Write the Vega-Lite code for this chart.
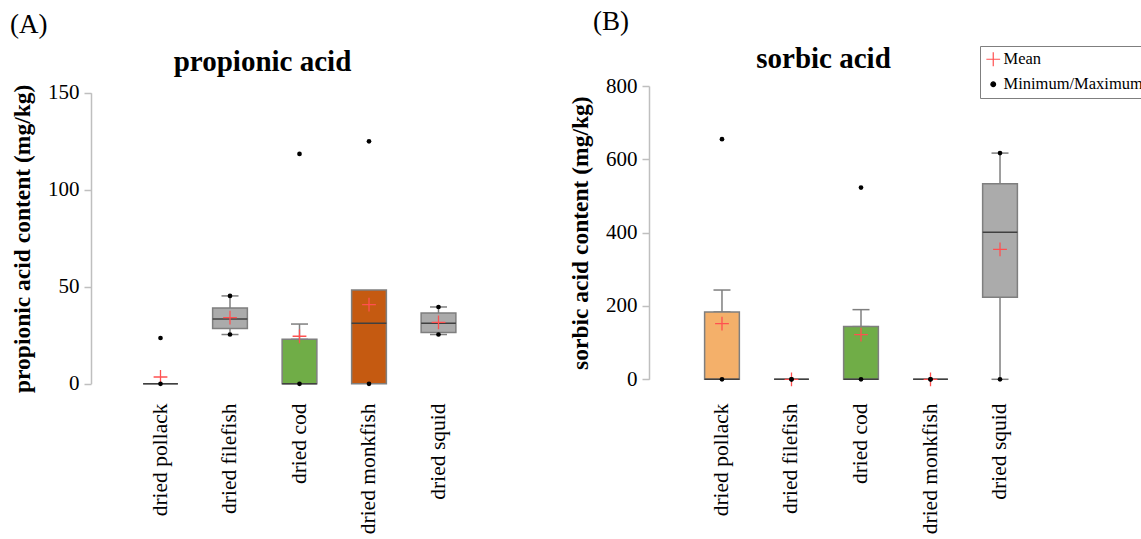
{
  "$schema": "https://vega.github.io/schema/vega-lite/v6.json",
  "padding": {"left": 10, "top": 8, "right": 0, "bottom": 0},
  "spacing": 60,
  "datasets": {
    "boxes": [
      {"panel": "A", "fish": "dried pollack", "q1": 0, "median": 0, "q3": 0, "wlo": null, "whi": null},
      {"panel": "A", "fish": "dried filefish", "q1": 28.5, "median": 33.4, "q3": 39.1, "wlo": 25.4, "whi": 45.3},
      {"panel": "A", "fish": "dried cod", "q1": 0, "median": 0, "q3": 22.9, "wlo": 22.9, "whi": 30.8},
      {"panel": "A", "fish": "dried monkfish", "q1": 0, "median": 31.2, "q3": 48.4, "wlo": null, "whi": null},
      {"panel": "A", "fish": "dried squid", "q1": 26.5, "median": 31.2, "q3": 36.5, "wlo": 25.4, "whi": 39.6},
      {"panel": "B", "fish": "dried pollack", "q1": 0, "median": 0, "q3": 183.5, "wlo": 183.5, "whi": 243.5},
      {"panel": "B", "fish": "dried filefish", "q1": 0, "median": 0, "q3": 0, "wlo": null, "whi": null},
      {"panel": "B", "fish": "dried cod", "q1": 0, "median": 0, "q3": 143.7, "wlo": 143.7, "whi": 190},
      {"panel": "B", "fish": "dried monkfish", "q1": 0, "median": 0, "q3": 0, "wlo": null, "whi": null},
      {"panel": "B", "fish": "dried squid", "q1": 223.6, "median": 401, "q3": 533.7, "wlo": 0, "whi": 617}
    ],
    "points": [
      {"panel": "A", "fish": "dried pollack", "stat": "Mean", "value": 3.5},
      {"panel": "A", "fish": "dried pollack", "stat": "Minimum/Maximum", "value": 0},
      {"panel": "A", "fish": "dried pollack", "stat": "Minimum/Maximum", "value": 23.6},
      {"panel": "A", "fish": "dried filefish", "stat": "Mean", "value": 34.1},
      {"panel": "A", "fish": "dried filefish", "stat": "Minimum/Maximum", "value": 25.4},
      {"panel": "A", "fish": "dried filefish", "stat": "Minimum/Maximum", "value": 45.3},
      {"panel": "A", "fish": "dried cod", "stat": "Mean", "value": 24.5},
      {"panel": "A", "fish": "dried cod", "stat": "Minimum/Maximum", "value": 0},
      {"panel": "A", "fish": "dried cod", "stat": "Minimum/Maximum", "value": 118.5},
      {"panel": "A", "fish": "dried monkfish", "stat": "Mean", "value": 40.8},
      {"panel": "A", "fish": "dried monkfish", "stat": "Minimum/Maximum", "value": 0},
      {"panel": "A", "fish": "dried monkfish", "stat": "Minimum/Maximum", "value": 125},
      {"panel": "A", "fish": "dried squid", "stat": "Mean", "value": 31.7},
      {"panel": "A", "fish": "dried squid", "stat": "Minimum/Maximum", "value": 25.4},
      {"panel": "A", "fish": "dried squid", "stat": "Minimum/Maximum", "value": 39.6},
      {"panel": "B", "fish": "dried pollack", "stat": "Mean", "value": 152},
      {"panel": "B", "fish": "dried pollack", "stat": "Minimum/Maximum", "value": 0},
      {"panel": "B", "fish": "dried pollack", "stat": "Minimum/Maximum", "value": 655},
      {"panel": "B", "fish": "dried filefish", "stat": "Mean", "value": 0},
      {"panel": "B", "fish": "dried filefish", "stat": "Minimum/Maximum", "value": 0},
      {"panel": "B", "fish": "dried filefish", "stat": "Minimum/Maximum", "value": 0},
      {"panel": "B", "fish": "dried cod", "stat": "Mean", "value": 122},
      {"panel": "B", "fish": "dried cod", "stat": "Minimum/Maximum", "value": 0},
      {"panel": "B", "fish": "dried cod", "stat": "Minimum/Maximum", "value": 523},
      {"panel": "B", "fish": "dried monkfish", "stat": "Mean", "value": 0},
      {"panel": "B", "fish": "dried monkfish", "stat": "Minimum/Maximum", "value": 0},
      {"panel": "B", "fish": "dried monkfish", "stat": "Minimum/Maximum", "value": 0},
      {"panel": "B", "fish": "dried squid", "stat": "Mean", "value": 354.5},
      {"panel": "B", "fish": "dried squid", "stat": "Minimum/Maximum", "value": 0},
      {"panel": "B", "fish": "dried squid", "stat": "Minimum/Maximum", "value": 617}
    ]
  },
  "hconcat": [
    {
      "width": 417,
      "height": 300,
      "title": {"text": "(A)", "anchor": "start", "frame": "group", "dx": -81, "offset": 8},
      "resolve": {"scale": {"x": "independent"}},
      "layer": [
        {
          "encoding": {
            "x": {"field": "fish", "type": "nominal", "sort": null, "scale": {"domain": ["dried pollack", "dried filefish", "dried cod", "dried monkfish", "dried squid"], "paddingInner": 0.5, "paddingOuter": 0.75}, "axis": {"title": null}}
          },
          "layer": [
            {
              "data": {"name": "boxes"},
              "transform": [{"filter": "datum.panel === 'A'"}],
              "mark": {"type": "rule", "color": "#7F7F7F", "strokeWidth": 1.5},
              "encoding": {
                "y": {"field": "wlo", "type": "quantitative", "title": "propionic acid content (mg/kg)", "scale": {"domain": [0, 150], "range": [297.8, 6.8], "nice": false}, "axis": {"values": [0, 50, 100, 150]}},
                "y2": {"field": "whi"}
              }
            },
            {
              "data": {"name": "boxes"},
              "transform": [{"filter": "datum.panel === 'A'"}],
              "mark": {"type": "tick", "color": "#7F7F7F", "thickness": 1.5, "size": 17, "opacity": 1},
              "encoding": {
                "y": {"field": "wlo", "type": "quantitative", "title": "propionic acid content (mg/kg)", "scale": {"domain": [0, 150], "range": [297.8, 6.8], "nice": false}, "axis": {"values": [0, 50, 100, 150]}}
              }
            },
            {
              "data": {"name": "boxes"},
              "transform": [{"filter": "datum.panel === 'A'"}],
              "mark": {"type": "tick", "color": "#7F7F7F", "thickness": 1.5, "size": 17, "opacity": 1},
              "encoding": {
                "y": {"field": "whi", "type": "quantitative", "title": "propionic acid content (mg/kg)", "scale": {"domain": [0, 150], "range": [297.8, 6.8], "nice": false}, "axis": {"values": [0, 50, 100, 150]}}
              }
            },
            {
              "data": {"name": "boxes"},
              "transform": [{"filter": "datum.panel === 'A'"}],
              "mark": {"type": "bar", "stroke": "#7F7F7F", "strokeWidth": 1.5},
              "encoding": {
                "y": {"field": "q1", "type": "quantitative", "title": "propionic acid content (mg/kg)", "scale": {"domain": [0, 150], "range": [297.8, 6.8], "nice": false}, "axis": {"values": [0, 50, 100, 150]}},
                "y2": {"field": "q3"},
                "fill": {"field": "fish", "type": "nominal", "scale": {"domain": ["dried pollack", "dried filefish", "dried cod", "dried monkfish", "dried squid"], "range": ["#F4B06A", "#ABABAB", "#70AD47", "#C55A11", "#ABABAB"]}, "legend": null}
              }
            },
            {
              "data": {"name": "boxes"},
              "transform": [{"filter": "datum.panel === 'A'"}],
              "mark": {"type": "tick", "color": "#404040", "thickness": 1.5, "size": 34.75, "opacity": 1},
              "encoding": {
                "y": {"field": "median", "type": "quantitative", "title": "propionic acid content (mg/kg)", "scale": {"domain": [0, 150], "range": [297.8, 6.8], "nice": false}, "axis": {"values": [0, 50, 100, 150]}}
              }
            },
            {
              "data": {"name": "points"},
              "transform": [{"filter": "datum.panel === 'A' && datum.stat === 'Mean'"}],
              "mark": {"type": "point", "filled": false, "strokeWidth": 1.3, "opacity": 1},
              "encoding": {
                "y": {"field": "value", "type": "quantitative", "title": "propionic acid content (mg/kg)", "scale": {"domain": [0, 150], "range": [297.8, 6.8], "nice": false}, "axis": {"values": [0, 50, 100, 150]}},
                "color": {"field": "stat", "type": "nominal", "scale": {"domain": ["Mean", "Minimum/Maximum"], "range": ["#FF5050", "#000000"]}, "legend": {"orient": "none", "legendX": 889, "legendY": -40, "title": null, "encode": {"symbols": {"update": {"fill": {"signal": "datum.value === 'Mean' ? 'transparent' : '#000000'"}, "stroke": {"signal": "datum.value === 'Mean' ? '#FF5050' : '#000000'"}, "strokeWidth": {"value": 1.2}}}}}},
                "shape": {"field": "stat", "type": "nominal", "scale": {"domain": ["Mean", "Minimum/Maximum"], "range": ["M-1,0H1M0,-1V1", "circle"]}, "legend": {"orient": "none", "legendX": 889, "legendY": -40, "title": null, "encode": {"symbols": {"update": {"fill": {"signal": "datum.value === 'Mean' ? 'transparent' : '#000000'"}, "stroke": {"signal": "datum.value === 'Mean' ? '#FF5050' : '#000000'"}, "strokeWidth": {"value": 1.2}}}}}},
                "size": {"field": "stat", "type": "nominal", "scale": {"domain": ["Mean", "Minimum/Maximum"], "range": [190, 22]}, "legend": {"orient": "none", "legendX": 889, "legendY": -40, "title": null, "encode": {"symbols": {"update": {"fill": {"signal": "datum.value === 'Mean' ? 'transparent' : '#000000'"}, "stroke": {"signal": "datum.value === 'Mean' ? '#FF5050' : '#000000'"}, "strokeWidth": {"value": 1.2}}}}}}
              }
            },
            {
              "data": {"name": "points"},
              "transform": [{"filter": "datum.panel === 'A' && datum.stat === 'Minimum/Maximum'"}],
              "mark": {"type": "point", "filled": true, "opacity": 1},
              "encoding": {
                "y": {"field": "value", "type": "quantitative", "title": "propionic acid content (mg/kg)", "scale": {"domain": [0, 150], "range": [297.8, 6.8], "nice": false}, "axis": {"values": [0, 50, 100, 150]}},
                "color": {"field": "stat", "type": "nominal", "scale": {"domain": ["Mean", "Minimum/Maximum"], "range": ["#FF5050", "#000000"]}, "legend": {"orient": "none", "legendX": 889, "legendY": -40, "title": null, "encode": {"symbols": {"update": {"fill": {"signal": "datum.value === 'Mean' ? 'transparent' : '#000000'"}, "stroke": {"signal": "datum.value === 'Mean' ? '#FF5050' : '#000000'"}, "strokeWidth": {"value": 1.2}}}}}},
                "shape": {"field": "stat", "type": "nominal", "scale": {"domain": ["Mean", "Minimum/Maximum"], "range": ["M-1,0H1M0,-1V1", "circle"]}, "legend": {"orient": "none", "legendX": 889, "legendY": -40, "title": null, "encode": {"symbols": {"update": {"fill": {"signal": "datum.value === 'Mean' ? 'transparent' : '#000000'"}, "stroke": {"signal": "datum.value === 'Mean' ? '#FF5050' : '#000000'"}, "strokeWidth": {"value": 1.2}}}}}},
                "size": {"field": "stat", "type": "nominal", "scale": {"domain": ["Mean", "Minimum/Maximum"], "range": [190, 22]}, "legend": {"orient": "none", "legendX": 889, "legendY": -40, "title": null, "encode": {"symbols": {"update": {"fill": {"signal": "datum.value === 'Mean' ? 'transparent' : '#000000'"}, "stroke": {"signal": "datum.value === 'Mean' ? '#FF5050' : '#000000'"}, "strokeWidth": {"value": 1.2}}}}}}
              }
            }
          ]
        },
        {
          "data": {"name": "boxes"},
          "transform": [{"filter": "datum.panel === 'A'"}],
          "mark": {"type": "point", "opacity": 0},
          "encoding": {
            "x": {"field": "fish", "type": "nominal", "sort": null, "axis": {"orient": "top", "labels": false, "ticks": false, "domain": false, "title": "propionic acid", "titleX": 171, "titleY": -15.7, "titleAlign": "center", "titleAngle": 0, "titleBaseline": "alphabetic", "titleFontSize": 29, "titleFontWeight": "bold"}}
          }
        }
      ]
    },
    {
      "width": 424,
      "height": 300,
      "title": {"text": "(B)", "anchor": "start", "frame": "group", "dx": -56, "offset": 8},
      "resolve": {"scale": {"x": "independent"}},
      "layer": [
        {
          "encoding": {
            "x": {"field": "fish", "type": "nominal", "sort": null, "scale": {"domain": ["dried pollack", "dried filefish", "dried cod", "dried monkfish", "dried squid"], "paddingInner": 0.5, "paddingOuter": 0.8}, "axis": {"title": null}}
          },
          "layer": [
            {
              "data": {"name": "boxes"},
              "transform": [{"filter": "datum.panel === 'B'"}],
              "mark": {"type": "rule", "color": "#7F7F7F", "strokeWidth": 1.5},
              "encoding": {
                "y": {"field": "wlo", "type": "quantitative", "title": "sorbic acid content (mg/kg)", "scale": {"domain": [0, 800], "range": [293.3, 0], "nice": false}, "axis": {"values": [0, 200, 400, 600, 800]}},
                "y2": {"field": "whi"}
              }
            },
            {
              "data": {"name": "boxes"},
              "transform": [{"filter": "datum.panel === 'B'"}],
              "mark": {"type": "tick", "color": "#7F7F7F", "thickness": 1.5, "size": 17, "opacity": 1},
              "encoding": {
                "y": {"field": "wlo", "type": "quantitative", "title": "sorbic acid content (mg/kg)", "scale": {"domain": [0, 800], "range": [293.3, 0], "nice": false}, "axis": {"values": [0, 200, 400, 600, 800]}}
              }
            },
            {
              "data": {"name": "boxes"},
              "transform": [{"filter": "datum.panel === 'B'"}],
              "mark": {"type": "tick", "color": "#7F7F7F", "thickness": 1.5, "size": 17, "opacity": 1},
              "encoding": {
                "y": {"field": "whi", "type": "quantitative", "title": "sorbic acid content (mg/kg)", "scale": {"domain": [0, 800], "range": [293.3, 0], "nice": false}, "axis": {"values": [0, 200, 400, 600, 800]}}
              }
            },
            {
              "data": {"name": "boxes"},
              "transform": [{"filter": "datum.panel === 'B'"}],
              "mark": {"type": "bar", "stroke": "#7F7F7F", "strokeWidth": 1.5},
              "encoding": {
                "y": {"field": "q1", "type": "quantitative", "title": "sorbic acid content (mg/kg)", "scale": {"domain": [0, 800], "range": [293.3, 0], "nice": false}, "axis": {"values": [0, 200, 400, 600, 800]}},
                "y2": {"field": "q3"},
                "fill": {"field": "fish", "type": "nominal", "scale": {"domain": ["dried pollack", "dried filefish", "dried cod", "dried monkfish", "dried squid"], "range": ["#F4B06A", "#ABABAB", "#70AD47", "#C55A11", "#ABABAB"]}, "legend": null}
              }
            },
            {
              "data": {"name": "boxes"},
              "transform": [{"filter": "datum.panel === 'B'"}],
              "mark": {"type": "tick", "color": "#404040", "thickness": 1.5, "size": 34.75, "opacity": 1},
              "encoding": {
                "y": {"field": "median", "type": "quantitative", "title": "sorbic acid content (mg/kg)", "scale": {"domain": [0, 800], "range": [293.3, 0], "nice": false}, "axis": {"values": [0, 200, 400, 600, 800]}}
              }
            },
            {
              "data": {"name": "points"},
              "transform": [{"filter": "datum.panel === 'B' && datum.stat === 'Mean'"}],
              "mark": {"type": "point", "filled": false, "strokeWidth": 1.3, "opacity": 1},
              "encoding": {
                "y": {"field": "value", "type": "quantitative", "title": "sorbic acid content (mg/kg)", "scale": {"domain": [0, 800], "range": [293.3, 0], "nice": false}, "axis": {"values": [0, 200, 400, 600, 800]}},
                "color": {"field": "stat", "type": "nominal", "scale": {"domain": ["Mean", "Minimum/Maximum"], "range": ["#FF5050", "#000000"]}, "legend": {"orient": "none", "legendX": 889, "legendY": -40, "title": null, "encode": {"symbols": {"update": {"fill": {"signal": "datum.value === 'Mean' ? 'transparent' : '#000000'"}, "stroke": {"signal": "datum.value === 'Mean' ? '#FF5050' : '#000000'"}, "strokeWidth": {"value": 1.2}}}}}},
                "shape": {"field": "stat", "type": "nominal", "scale": {"domain": ["Mean", "Minimum/Maximum"], "range": ["M-1,0H1M0,-1V1", "circle"]}, "legend": {"orient": "none", "legendX": 889, "legendY": -40, "title": null, "encode": {"symbols": {"update": {"fill": {"signal": "datum.value === 'Mean' ? 'transparent' : '#000000'"}, "stroke": {"signal": "datum.value === 'Mean' ? '#FF5050' : '#000000'"}, "strokeWidth": {"value": 1.2}}}}}},
                "size": {"field": "stat", "type": "nominal", "scale": {"domain": ["Mean", "Minimum/Maximum"], "range": [190, 22]}, "legend": {"orient": "none", "legendX": 889, "legendY": -40, "title": null, "encode": {"symbols": {"update": {"fill": {"signal": "datum.value === 'Mean' ? 'transparent' : '#000000'"}, "stroke": {"signal": "datum.value === 'Mean' ? '#FF5050' : '#000000'"}, "strokeWidth": {"value": 1.2}}}}}}
              }
            },
            {
              "data": {"name": "points"},
              "transform": [{"filter": "datum.panel === 'B' && datum.stat === 'Minimum/Maximum'"}],
              "mark": {"type": "point", "filled": true, "opacity": 1},
              "encoding": {
                "y": {"field": "value", "type": "quantitative", "title": "sorbic acid content (mg/kg)", "scale": {"domain": [0, 800], "range": [293.3, 0], "nice": false}, "axis": {"values": [0, 200, 400, 600, 800]}},
                "color": {"field": "stat", "type": "nominal", "scale": {"domain": ["Mean", "Minimum/Maximum"], "range": ["#FF5050", "#000000"]}, "legend": {"orient": "none", "legendX": 889, "legendY": -40, "title": null, "encode": {"symbols": {"update": {"fill": {"signal": "datum.value === 'Mean' ? 'transparent' : '#000000'"}, "stroke": {"signal": "datum.value === 'Mean' ? '#FF5050' : '#000000'"}, "strokeWidth": {"value": 1.2}}}}}},
                "shape": {"field": "stat", "type": "nominal", "scale": {"domain": ["Mean", "Minimum/Maximum"], "range": ["M-1,0H1M0,-1V1", "circle"]}, "legend": {"orient": "none", "legendX": 889, "legendY": -40, "title": null, "encode": {"symbols": {"update": {"fill": {"signal": "datum.value === 'Mean' ? 'transparent' : '#000000'"}, "stroke": {"signal": "datum.value === 'Mean' ? '#FF5050' : '#000000'"}, "strokeWidth": {"value": 1.2}}}}}},
                "size": {"field": "stat", "type": "nominal", "scale": {"domain": ["Mean", "Minimum/Maximum"], "range": [190, 22]}, "legend": {"orient": "none", "legendX": 889, "legendY": -40, "title": null, "encode": {"symbols": {"update": {"fill": {"signal": "datum.value === 'Mean' ? 'transparent' : '#000000'"}, "stroke": {"signal": "datum.value === 'Mean' ? '#FF5050' : '#000000'"}, "strokeWidth": {"value": 1.2}}}}}}
              }
            }
          ]
        },
        {
          "data": {"name": "boxes"},
          "transform": [{"filter": "datum.panel === 'B'"}],
          "mark": {"type": "point", "opacity": 0},
          "encoding": {
            "x": {"field": "fish", "type": "nominal", "sort": null, "axis": {"orient": "top", "labels": false, "ticks": false, "domain": false, "title": "sorbic acid", "titleX": 174, "titleY": -18.7, "titleAlign": "center", "titleAngle": 0, "titleBaseline": "alphabetic", "titleFontSize": 29, "titleFontWeight": "bold"}}
          }
        }
      ]
    }
  ],
  "config": {
    "view": {"stroke": null},
    "font": "Liberation Serif",
    "title": {"font": "Liberation Serif", "fontSize": 27, "fontWeight": "normal", "color": "#000000"},
    "axis": {"labelFont": "Liberation Serif", "titleFont": "Liberation Serif", "labelColor": "#000000", "titleColor": "#000000", "grid": false},
    "axisY": {"domainColor": "#BFBFBF", "domainWidth": 1.5, "tickColor": "#BFBFBF", "tickWidth": 1.5, "tickSize": 7, "labelFontSize": 21, "labelPadding": 5, "titleFontSize": 23.5, "titleFontWeight": "bold", "titlePadding": 13},
    "axisX": {"domain": false, "ticks": false, "tickSize": 0, "labelAngle": -90, "labelFontSize": 21.5, "labelPadding": 17},
    "legend": {
      "labelFont": "Liberation Serif", "labelFontSize": 16.5, "labelColor": "#000000",
      "strokeColor": "#7F7F7F", "fillColor": "#FFFFFF", "padding": 5, "rowPadding": 7, "labelOffset": 2,
      "symbolStrokeWidth": 1.2
    }
  }
}
